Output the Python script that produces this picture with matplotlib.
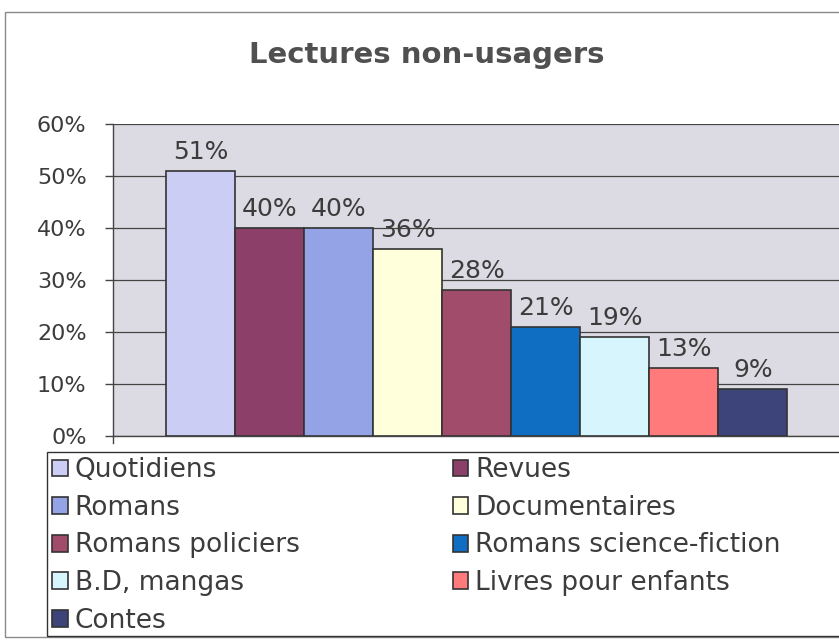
import numpy as np
import matplotlib
matplotlib.use('Agg')
import matplotlib.pyplot as plt
from matplotlib.patches import Rectangle, Patch

categories = ['Quotidiens', 'Revues', 'Romans', 'Documentaires', 'Romans policiers',
              'Romans science-fiction', 'B.D, mangas', 'Livres pour enfants', 'Contes']
values = [51, 40, 40, 36, 28, 21, 19, 13, 9]
colors = ['#CBCDF5', '#8C3F69', '#94A3E6', '#FFFFDC', '#A24C6C',
          '#0F6EC2', '#D6F5FC', '#FF7B7B', '#3D4479']
yticks = [0, 10, 20, 30, 40, 50, 60]

plt.rcParams['font.family'] = ['DejaVu Sans']
txt = '#3c3c3c'

fig = plt.figure(figsize=(8.39, 6.43), dpi=100)
fig.patches.append(Rectangle((5/839, 6/643), 1, 1 - 18/643, transform=fig.transFigure,
                             fill=False, edgecolor='#8a8a8a', linewidth=1))

ax = fig.add_axes([113/839, 1 - 436/643, 1 - 113/839, (436 - 124)/643])
ax.set_facecolor('#DCDBE3')
x = np.arange(len(values))
bars = ax.bar(x, values, width=1.0, color=colors, edgecolor='#333333', linewidth=1.2, zorder=3)
for xi, v in zip(x, values):
    ax.annotate(f'{v}%', (xi, v), xytext=(0, 5), textcoords='offset points',
                ha='center', va='bottom', fontsize=18, color=txt, zorder=4)

ax.set_xlim(-1.27, 9.25)
ax.set_ylim(0, 60)
ax.set_yticks(yticks)
ax.set_yticklabels([f'{t}%' for t in yticks], fontsize=16, color=txt)
ax.set_xticks([])
ax.tick_params(axis='y', direction='out', length=6, width=1, color='#444444', pad=13)
ax.grid(axis='y', color='#444444', linewidth=0.9, zorder=1)
for s in ['top', 'right']:
    ax.spines[s].set_visible(False)
for s in ['left', 'bottom']:
    ax.spines[s].set_color('#444444')
    ax.spines[s].set_linewidth(1)
ax.plot([-1.27, -1.27], [0, -1.3], color='#444444', lw=1, clip_on=False)

fig.text(427/839, 1 - 55/643, 'Lectures non-usagers', ha='center', va='center',
         fontsize=21, fontweight='bold', color='#505050')

# legend box reaches the right edge of the picture
fig.patches.append(Rectangle((47/839, 1 - 636/643), 1, (636 - 452)/643, transform=fig.transFigure,
                             fill=False, edgecolor='#333333', linewidth=1))
handles = [Patch(facecolor=c, edgecolor='#333333', linewidth=1.2) for c in colors]
order = [0, 2, 4, 6, 8, 1, 3, 5, 7]
leg = fig.legend([handles[i] for i in order], [categories[i] for i in order],
                 loc='upper left', bbox_to_anchor=(47/839, 1 - 452/643),
                 ncol=2, fontsize=19, frameon=False,
                 handlelength=0.6, handleheight=0.6, handletextpad=0.25,
                 labelspacing=0.44, columnspacing=5.8, borderpad=0.2, borderaxespad=0)
for t in leg.get_texts():
    t.set_color(txt)

fig.savefig('out.png', dpi=100, facecolor='white')
